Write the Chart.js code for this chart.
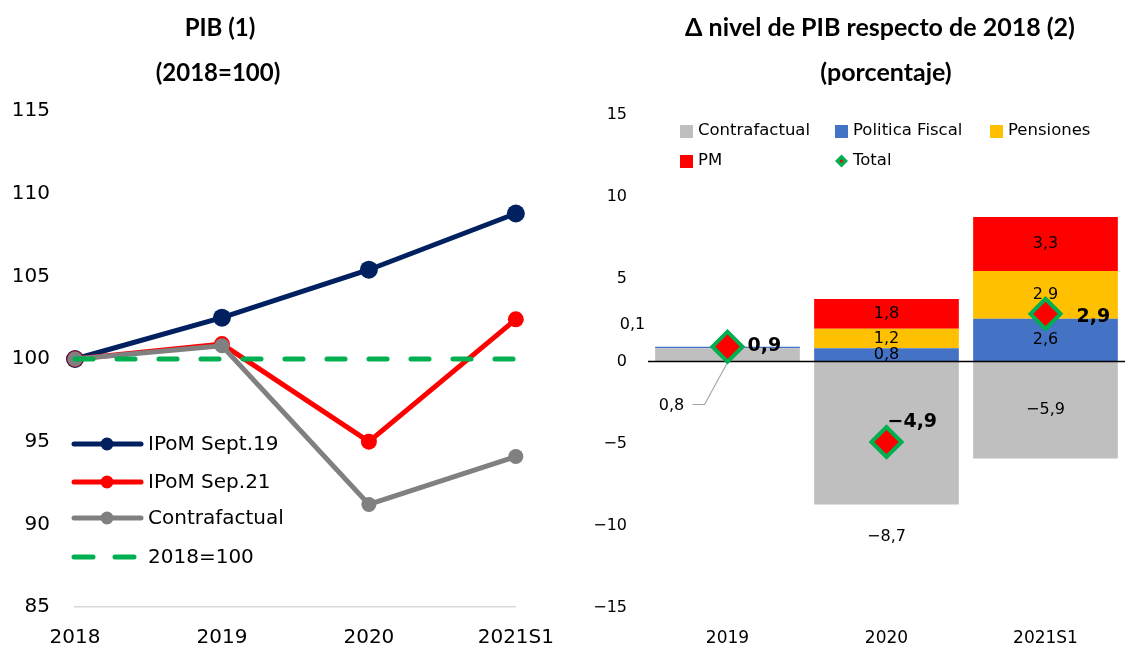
<!DOCTYPE html>
<html lang="es">
<head>
<meta charset="UTF-8">
<title>PIB - Δ nivel de PIB</title>
<script src="https://cdn.jsdelivr.net/npm/chart.js"></script>
<style>
  body { margin: 0; background: #fff; width: 1146px; height: 648px; position: relative; overflow: hidden; }
  .panel { position: absolute; top: 0; width: 573px; height: 648px; }
  .titulo { position: absolute; text-align: center; font-family: Lato, "Open Sans", sans-serif; font-weight: bold; font-size: 24px; color: #000; white-space: nowrap; }
</style>
</head>
<body>
  <div class="panel" style="left:0"><canvas id="graficoPib"></canvas></div>
  <div class="panel" style="left:573px"><canvas id="graficoDelta"></canvas></div>

  <div class="titulo" style="left:0; width:440px; top:12px;">PIB (1)</div>
  <div class="titulo" style="left:0; width:436px; top:57px;">(2018=100)</div>
  <div class="titulo" style="left:614px; width:532px; top:11px; font-size:25px;">Δ nivel de PIB respecto de 2018 (2)</div>
  <div class="titulo" style="left:620px; width:532px; top:56px; font-size:25px;">(porcentaje)</div>

<script>
  // Datos panel izquierdo (índice 2018=100)
  const anios = ['2018', '2019', '2020', '2021S1'];
  const ipomSep19 = [100, 102.5, 105.4, 108.8];
  const ipomSep21 = [100, 100.9, 95.0, 102.4];
  const contrafactualPib = [100, 100.8, 91.2, 94.1];
  const base2018 = [100, 100, 100, 100];

  // Datos panel derecho (porcentaje respecto de 2018)
  const aniosDelta = ['2019', '2020', '2021S1'];
  const contrafactual = [0.8, -8.7, -5.9];
  const politicaFiscal = [0.1, 0.8, 2.6];
  const pensiones = [0, 1.2, 2.9];
  const pm = [0, 1.8, 3.3];
  const total = [0.9, -4.9, 2.9];

  Chart.defaults.font.family = '"DejaVu Sans", sans-serif';
  Chart.defaults.color = '#000';
  Chart.defaults.animation = false;

  const fmt = v => v.toFixed(1).replace('.', ',').replace('-', '\u2212');

  // Leyenda dentro del gráfico de líneas
  const leyendaPib = {
    id: 'leyendaPib',
    afterDraw(chart) {
      const ctx = chart.ctx;
      const items = [
        { texto: 'IPoM Sept.19', color: '#002060', y: 444 },
        { texto: 'IPoM Sep.21', color: '#FF0000', y: 482 },
        { texto: 'Contrafactual', color: '#808080', y: 518 },
        { texto: '2018=100', color: '#00B050', y: 557, guion: true }
      ];
      ctx.save();
      ctx.font = '20px "DejaVu Sans"';
      ctx.textBaseline = 'middle';
      ctx.lineCap = 'round';
      items.forEach(it => {
        ctx.strokeStyle = it.color;
        ctx.lineWidth = 5;
        ctx.beginPath();
        if (it.guion) {
          ctx.moveTo(74, it.y); ctx.lineTo(93, it.y);
          ctx.moveTo(115, it.y); ctx.lineTo(134, it.y);
        } else {
          ctx.moveTo(74, it.y); ctx.lineTo(141, it.y);
        }
        ctx.stroke();
        if (!it.guion) {
          ctx.fillStyle = it.color;
          ctx.beginPath();
          ctx.arc(107, it.y, 6.5, 0, Math.PI * 2);
          ctx.fill();
        }
        ctx.fillStyle = '#000';
        ctx.fillText(it.texto, 148, it.y + 1);
      });
      ctx.restore();
    }
  };

  new Chart(document.getElementById('graficoPib'), {
    type: 'line',
    data: {
      labels: anios,
      datasets: [
        { label: 'IPoM Sept.19', data: ipomSep19, borderColor: '#002060', backgroundColor: '#002060',
          borderWidth: 5, pointRadius: 9, pointBorderWidth: 0, order: 4, clip: false },
        { label: 'IPoM Sep.21', data: ipomSep21, borderColor: '#FF0000', backgroundColor: '#FF0000',
          borderWidth: 5, pointRadius: 8, pointBorderWidth: 0, order: 3, clip: false },
        { label: 'Contrafactual', data: contrafactualPib, borderColor: '#808080', backgroundColor: '#808080',
          borderWidth: 5, pointRadius: 7.5, pointBorderWidth: 0, order: 2, clip: false },
        { label: '2018=100', data: base2018, borderColor: '#00B050', borderDash: [18, 24],
          borderCapStyle: 'round', borderWidth: 5, pointRadius: 0, order: 1, clip: false }
      ]
    },
    options: {
      responsive: true,
      maintainAspectRatio: false,
      layout: { padding: { top: 111, right: 55, left: 0, bottom: 0 } },
      plugins: { legend: { display: false }, tooltip: { enabled: false } },
      scales: {
        x: {
          offset: false,
          grid: { display: false, drawTicks: false },
          border: { color: '#D9D9D9', width: 1.5 },
          ticks: { padding: 19, font: { size: 20 } },
          afterFit: s => { s.height = 41; }
        },
        y: {
          min: 85, max: 115,
          ticks: { stepSize: 5, padding: 25, font: { size: 20 } },
          grid: { display: false, drawTicks: false },
          border: { display: false },
          afterFit: s => { s.width = 75; }
        }
      }
    },
    plugins: [leyendaPib]
  });

  // Etiquetas, línea del cero y leyenda del gráfico de barras
  const etiquetasDelta = {
    id: 'etiquetasDelta',
    beforeDatasetDraw(chart, args) {
      if (args.meta.type !== 'line') return;
      const ctx = chart.ctx;
      const area = chart.chartArea;
      const y0 = chart.scales.y.getPixelForValue(0);
      ctx.save();
      ctx.strokeStyle = '#000';
      ctx.lineWidth = 1.5;
      ctx.beginPath();
      ctx.moveTo(area.left, y0);
      ctx.lineTo(area.right, y0);
      ctx.stroke();

      ctx.font = '16px "DejaVu Sans"';
      ctx.textAlign = 'center';
      ctx.textBaseline = 'middle';
      ctx.fillStyle = '#000';
      for (let d = 0; d < 4; d++) {
        const meta = chart.getDatasetMeta(d);
        const valores = chart.data.datasets[d].data;
        meta.data.forEach((bar, i) => {
          const v = valores[i];
          if (!v) return;
          let x = bar.x, y = (bar.y + bar.base) / 2;
          if (i === 0 && d === 0) { x = bar.x - 56; y = y0 + 44; }
          else if (i === 0 && d === 1) { x = bar.x - 95; y = y0 - 37; }
          else if (i === 1 && d === 0) { y = bar.y + 32; }
          ctx.fillText(fmt(v), x, y);
        });
      }
      // línea guía de la etiqueta 0,8
      const b = chart.getDatasetMeta(0).data[0];
      ctx.strokeStyle = '#A6A6A6';
      ctx.lineWidth = 1.2;
      ctx.beginPath();
      ctx.moveTo(b.x - 35, y0 + 43);
      ctx.lineTo(b.x - 23, y0 + 43);
      ctx.lineTo(b.x, y0 + 1);
      ctx.moveTo(b.x + 2, y0 - 16);
      ctx.lineTo(b.x + 14, y0 - 16);
      ctx.stroke();
      ctx.restore();
    },
    afterDatasetsDraw(chart) {
      const ctx = chart.ctx;
      const puntos = chart.getDatasetMeta(4).data;
      const desplaz = [[20, -1], [1, -20], [31, 3]];
      ctx.save();
      ctx.font = 'bold 19px "DejaVu Sans"';
      ctx.textAlign = 'left';
      ctx.textBaseline = 'middle';
      ctx.fillStyle = '#000';
      puntos.forEach((p, i) => {
        ctx.fillText(fmt(total[i]), p.x + desplaz[i][0], p.y + desplaz[i][1]);
      });

      // leyenda
      const items = [
        { texto: 'Contrafactual', color: '#BFBFBF', x: 107, y: 135 },
        { texto: 'Politica Fiscal', color: '#4472C4', x: 262, y: 135 },
        { texto: 'Pensiones', color: '#FFC000', x: 417, y: 135 },
        { texto: 'PM', color: '#FF0000', x: 107, y: 165 },
        { texto: 'Total', color: '#00B050', x: 262, y: 165, rombo: true }
      ];
      ctx.font = '16.5px "DejaVu Sans"';
      ctx.textBaseline = 'alphabetic';
      items.forEach(it => {
        if (it.rombo) {
          const cx = it.x + 6.5, cy = it.y - 4;
          ctx.fillStyle = it.color;
          ctx.beginPath();
          ctx.moveTo(cx, cy - 6.5); ctx.lineTo(cx + 6.5, cy);
          ctx.lineTo(cx, cy + 6.5); ctx.lineTo(cx - 6.5, cy);
          ctx.closePath();
          ctx.fill();
          ctx.fillStyle = '#FF0000';
          ctx.beginPath();
          ctx.arc(cx, cy, 1.6, 0, Math.PI * 2);
          ctx.fill();
        } else {
          ctx.fillStyle = it.color;
          ctx.fillRect(it.x, it.y - 10, 13, 13);
        }
        ctx.fillStyle = '#000';
        ctx.fillText(it.texto, it.x + 18, it.y);
      });
      ctx.restore();
    }
  };

  new Chart(document.getElementById('graficoDelta'), {
    data: {
      labels: aniosDelta,
      datasets: [
        { type: 'bar', label: 'Contrafactual', data: contrafactual, backgroundColor: '#BFBFBF', order: 1 },
        { type: 'bar', label: 'Politica Fiscal', data: politicaFiscal, backgroundColor: '#4472C4', order: 1 },
        { type: 'bar', label: 'Pensiones', data: pensiones, backgroundColor: '#FFC000', order: 1 },
        { type: 'bar', label: 'PM', data: pm, backgroundColor: '#FF0000', order: 1 },
        { type: 'line', label: 'Total', data: total, stack: 'total', showLine: false,
          pointStyle: 'rectRot', pointRadius: 15, pointBorderWidth: 4,
          pointBackgroundColor: '#FF0000', pointBorderColor: '#00B050', order: 0, clip: false }
      ]
    },
    options: {
      responsive: true,
      maintainAspectRatio: false,
      layout: { padding: { top: 115, right: 21, left: 0, bottom: 0 } },
      datasets: { bar: { barPercentage: 0.91, categoryPercentage: 1 } },
      plugins: { legend: { display: false }, tooltip: { enabled: false } },
      scales: {
        x: {
          stacked: true,
          grid: { display: false, drawTicks: false },
          border: { display: false },
          ticks: { padding: 20, font: { size: 17 } },
          afterFit: s => { s.height = 40; }
        },
        y: {
          stacked: true,
          min: -15, max: 15,
          ticks: { stepSize: 5, padding: 21, font: { size: 16 }, callback: v => String(v).replace('-', '\u2212') },
          grid: { display: false, drawTicks: false },
          border: { display: false },
          afterFit: s => { s.width = 75; }
        }
      }
    },
    plugins: [etiquetasDelta]
  });
</script>
</body>
</html>
